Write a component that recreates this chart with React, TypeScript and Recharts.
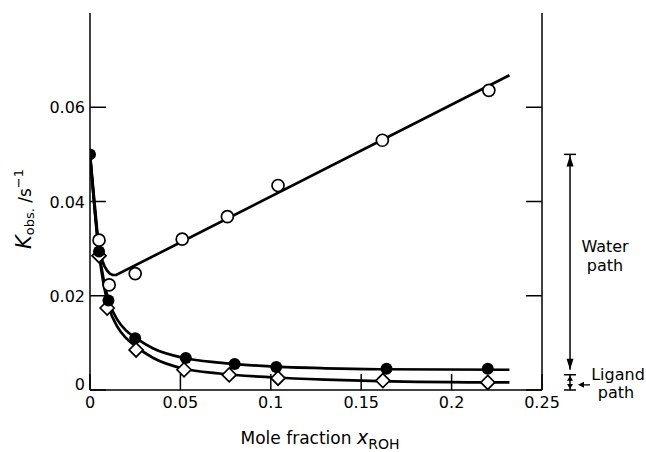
import React from "react";
import {
  ComposedChart,
  Line,
  Scatter,
  XAxis,
  YAxis,
  ReferenceLine,
} from "recharts";

const FONT = "DejaVu Sans";

// measured points
const openPts = [
  { x: 0.005, y: 0.0318 },
  { x: 0.0106, y: 0.0223 },
  { x: 0.025, y: 0.0247 },
  { x: 0.051, y: 0.032 },
  { x: 0.076, y: 0.0368 },
  { x: 0.104, y: 0.0434 },
  { x: 0.1617, y: 0.053 },
  { x: 0.2206, y: 0.0636 },
];
const filledPts = [
  { x: 0.0, y: 0.05 },
  { x: 0.005, y: 0.0294 },
  { x: 0.0102, y: 0.019 },
  { x: 0.025, y: 0.011 },
  { x: 0.053, y: 0.0068 },
  { x: 0.08, y: 0.0055 },
  { x: 0.103, y: 0.0049 },
  { x: 0.164, y: 0.0045 },
  { x: 0.22, y: 0.0045 },
];
const diamondPts = [
  { x: 0.005, y: 0.0285 },
  { x: 0.0095, y: 0.0174 },
  { x: 0.0255, y: 0.0085 },
  { x: 0.052, y: 0.0043 },
  { x: 0.077, y: 0.0032 },
  { x: 0.104, y: 0.0025 },
  { x: 0.162, y: 0.002 },
  { x: 0.22, y: 0.0016 },
];

// fitted curves
const waterFit = [
  { x: 0.0, y: 0.05 },
  { x: 0.005, y: 0.0296 },
  { x: 0.0065, y: 0.0278 },
  { x: 0.008, y: 0.0263 },
  { x: 0.0095, y: 0.0253 },
  { x: 0.011, y: 0.0247 },
  { x: 0.0125, y: 0.0244 },
  { x: 0.0145, y: 0.0244 },
  { x: 0.232, y: 0.0668 },
];
const filledFit = [
  { x: 0.0, y: 0.05 },
  { x: 0.005, y: 0.0296 },
  { x: 0.0075, y: 0.0235 },
  { x: 0.0105, y: 0.0187 },
  { x: 0.015, y: 0.015 },
  { x: 0.02, y: 0.0126 },
  { x: 0.0255, y: 0.011 },
  { x: 0.035, y: 0.0088 },
  { x: 0.052, y: 0.0068 },
  { x: 0.0715, y: 0.0058 },
  { x: 0.1, y: 0.005 },
  { x: 0.13, y: 0.0046 },
  { x: 0.16, y: 0.0044 },
  { x: 0.232, y: 0.0043 },
];
const diamondFit = [
  { x: 0.0, y: 0.05 },
  { x: 0.005, y: 0.029 },
  { x: 0.0075, y: 0.0225 },
  { x: 0.0105, y: 0.0175 },
  { x: 0.015, y: 0.0135 },
  { x: 0.02, y: 0.011 },
  { x: 0.0255, y: 0.0092 },
  { x: 0.035, y: 0.0068 },
  { x: 0.052, y: 0.0045 },
  { x: 0.0715, y: 0.0035 },
  { x: 0.1, y: 0.0027 },
  { x: 0.13, y: 0.0022 },
  { x: 0.16, y: 0.0019 },
  { x: 0.232, y: 0.0016 },
];

const xTicks = [0, 0.05, 0.1, 0.15, 0.2, 0.25];
const yTicks = [0, 0.02, 0.04, 0.06];

// annotation values
const annoX = 0.2655;
const waterTop = 0.05;
const ligandTop = 0.0043;
const ligandBottom = 0;

const BottomTick = (p: any) => {
  const { x, y, payload } = p;
  return (
    <g>
      <line x1={x} x2={x} y1={y} y2={y - 16} stroke="#000" strokeWidth={1.5} />
      <text x={x} y={y + 18} textAnchor="middle" fontSize={16} fontFamily={FONT} fill="#000">
        {String(payload.value)}
      </text>
    </g>
  );
};
const TopTick = (p: any) => {
  const { x, y } = p;
  return <line x1={x} x2={x} y1={y} y2={y + 15} stroke="#000" strokeWidth={1.5} />;
};
const LeftTick = (p: any) => {
  const { x, y, payload } = p;
  const v = payload.value;
  return (
    <g>
      <line x1={x} x2={x + 16} y1={y} y2={y} stroke="#000" strokeWidth={1.5} />
      <text x={x - 5} y={v === 0 ? y : y + 6} textAnchor="end" fontSize={16} fontFamily={FONT} fill="#000">
        {String(v)}
      </text>
    </g>
  );
};
const RightTick = (p: any) => {
  const { x, y } = p;
  return <line x1={x} x2={x - 16} y1={y} y2={y} stroke="#000" strokeWidth={1.5} />;
};

const OpenCircle = (p: any) => (
  <circle cx={p.cx} cy={p.cy} r={6} fill="#fff" stroke="#000" strokeWidth={1.7} />
);
const FilledCircle = (p: any) => <circle cx={p.cx} cy={p.cy} r={6} fill="#000" />;
const Diamond = (p: any) => {
  const s = 7;
  const { cx, cy } = p;
  return (
    <polygon
      points={`${cx},${cy - s} ${cx + s},${cy} ${cx},${cy + s} ${cx - s},${cy}`}
      fill="#fff"
      stroke="#000"
      strokeWidth={1.7}
    />
  );
};

const WaterArrow = (p: any) => {
  const x = p.x1;
  const top = Math.min(p.y1, p.y2);
  const bot = Math.max(p.y1, p.y2);
  const mid = (top + bot) / 2;
  return (
    <g>
      <line x1={x} x2={x} y1={top} y2={bot} stroke="#000" strokeWidth={1.5} />
      <line x1={x - 6} x2={x + 6} y1={top} y2={top} stroke="#000" strokeWidth={1.5} />
      <polygon points={`${x},${top + 1} ${x - 3.5},${top + 12} ${x + 3.5},${top + 12}`} fill="#000" />
      <polygon points={`${x},${bot} ${x - 3.5},${bot - 11} ${x + 3.5},${bot - 11}`} fill="#000" />
      <text x={x + 35} y={mid - 10} textAnchor="middle" fontSize={16} fontFamily={FONT} fill="#000">
        Water
      </text>
      <text x={x + 35} y={mid + 9} textAnchor="middle" fontSize={16} fontFamily={FONT} fill="#000">
        path
      </text>
    </g>
  );
};

const LigandArrow = (p: any) => {
  const x = p.x1;
  const top = Math.min(p.y1, p.y2);
  const bot = Math.max(p.y1, p.y2);
  const mid = (top + bot) / 2;
  return (
    <g>
      <line x1={x - 6} x2={x + 6} y1={top + 5} y2={top + 5} stroke="#000" strokeWidth={1.5} />
      <line x1={x - 6} x2={x + 6} y1={bot} y2={bot} stroke="#000" strokeWidth={1.5} />
      <line x1={x} x2={x} y1={top + 5} y2={bot} stroke="#000" strokeWidth={1.5} />
      <polygon points={`${x},${top + 6} ${x - 3},${top + 11} ${x + 3},${top + 11}`} fill="#000" />
      <polygon points={`${x},${bot - 1} ${x - 3},${bot - 6} ${x + 3},${bot - 6}`} fill="#000" />
      <line x1={x + 10} x2={x + 20} y1={mid + 5} y2={mid + 5} stroke="#000" strokeWidth={1.3} />
      <polygon points={`${x + 8},${mid + 5} ${x + 14},${mid + 2} ${x + 14},${mid + 8}`} fill="#000" />
      <text x={x + 48} y={mid} textAnchor="middle" fontSize={16} fontFamily={FONT} fill="#000">
        Ligand
      </text>
      <text x={x + 46} y={mid + 18} textAnchor="middle" fontSize={16} fontFamily={FONT} fill="#000">
        path
      </text>
    </g>
  );
};

const XLabel = (p: any) => {
  const vb = p.viewBox || {};
  const cx = vb.x + vb.width / 2 + 4;
  return (
    <text x={cx} y={vb.y + 54} textAnchor="middle" fontSize={17} fontFamily={FONT} fill="#000">
      <tspan>Mole fraction </tspan>
      <tspan fontStyle="italic" fontSize={19}>x</tspan>
      <tspan fontSize={14} dy={5}>ROH</tspan>
    </text>
  );
};

const YLabel = (p: any) => {
  const vb = p.viewBox || {};
  const x = 31;
  const y = vb.y + vb.height * 0.52;
  return (
    <text
      x={x}
      y={y}
      transform={`rotate(-90 ${x} ${y})`}
      textAnchor="middle"
      fontFamily={FONT}
      fill="#000"
    >
      <tspan fontStyle="italic" fontSize={21}>K</tspan>
      <tspan fontSize={13} dy={3}>obs.</tspan>
      <tspan fontSize={17} dy={-3}>{" /s"}</tspan>
      <tspan fontSize={13} dy={-8}>−1</tspan>
    </text>
  );
};

export default function App() {
  return (
    <div style={{ position: "absolute", left: 0, top: 0, width: 646, height: 452, background: "#fff" }}>
      <ComposedChart
        width={646}
        height={452}
        margin={{ top: 13, right: 103, bottom: 0, left: 0 }}
      >
        <XAxis
          dataKey="x"
          type="number"
          domain={[0, 0.25]}
          ticks={xTicks}
          allowDataOverflow
          height={62}
          tickSize={0}
          tickMargin={0}
          tickLine={false}
          axisLine={{ stroke: "#000", strokeWidth: 1.5 }}
          tick={BottomTick}
          interval={0}
          label={{ content: XLabel }}
        />
        <XAxis
          xAxisId="t"
          orientation="top"
          type="number"
          domain={[0, 0.25]}
          ticks={xTicks}
          allowDataOverflow
          height={0}
          tickSize={0}
          tickMargin={0}
          tickLine={false}
          axisLine={{ stroke: "#000", strokeWidth: 1.5 }}
          tick={TopTick}
          interval={0}
        />
        <YAxis
          dataKey="y"
          type="number"
          domain={[0, 0.08]}
          ticks={yTicks}
          allowDataOverflow
          width={90}
          tickSize={0}
          tickMargin={0}
          tickLine={false}
          axisLine={{ stroke: "#000", strokeWidth: 1.5 }}
          tick={LeftTick}
          interval={0}
          label={{ content: YLabel }}
        />
        <YAxis
          yAxisId="r"
          orientation="right"
          type="number"
          domain={[0, 0.08]}
          ticks={yTicks}
          allowDataOverflow
          width={1}
          tickSize={0}
          tickMargin={0}
          tickLine={false}
          axisLine={{ stroke: "#000", strokeWidth: 1.5 }}
          tick={RightTick}
          interval={0}
        />
        <Line data={waterFit} dataKey="y" type="linear" stroke="#000" strokeWidth={2.7} dot={false} isAnimationActive={false} />
        <Line data={filledFit} dataKey="y" type="monotone" stroke="#000" strokeWidth={2.7} dot={false} isAnimationActive={false} />
        <Line data={diamondFit} dataKey="y" type="monotone" stroke="#000" strokeWidth={2.7} dot={false} isAnimationActive={false} />
        <Scatter data={diamondPts} dataKey="y" shape={Diamond} isAnimationActive={false} />
        <Scatter data={filledPts} dataKey="y" shape={FilledCircle} isAnimationActive={false} />
        <Scatter data={openPts} dataKey="y" shape={OpenCircle} isAnimationActive={false} />
        <ReferenceLine
          segment={[{ x: annoX, y: waterTop }, { x: annoX, y: ligandTop }]}
          ifOverflow="visible"
          shape={WaterArrow}
        />
        <ReferenceLine
          segment={[{ x: annoX, y: ligandTop }, { x: annoX, y: ligandBottom }]}
          ifOverflow="visible"
          shape={LigandArrow}
        />
      </ComposedChart>
    </div>
  );
}
